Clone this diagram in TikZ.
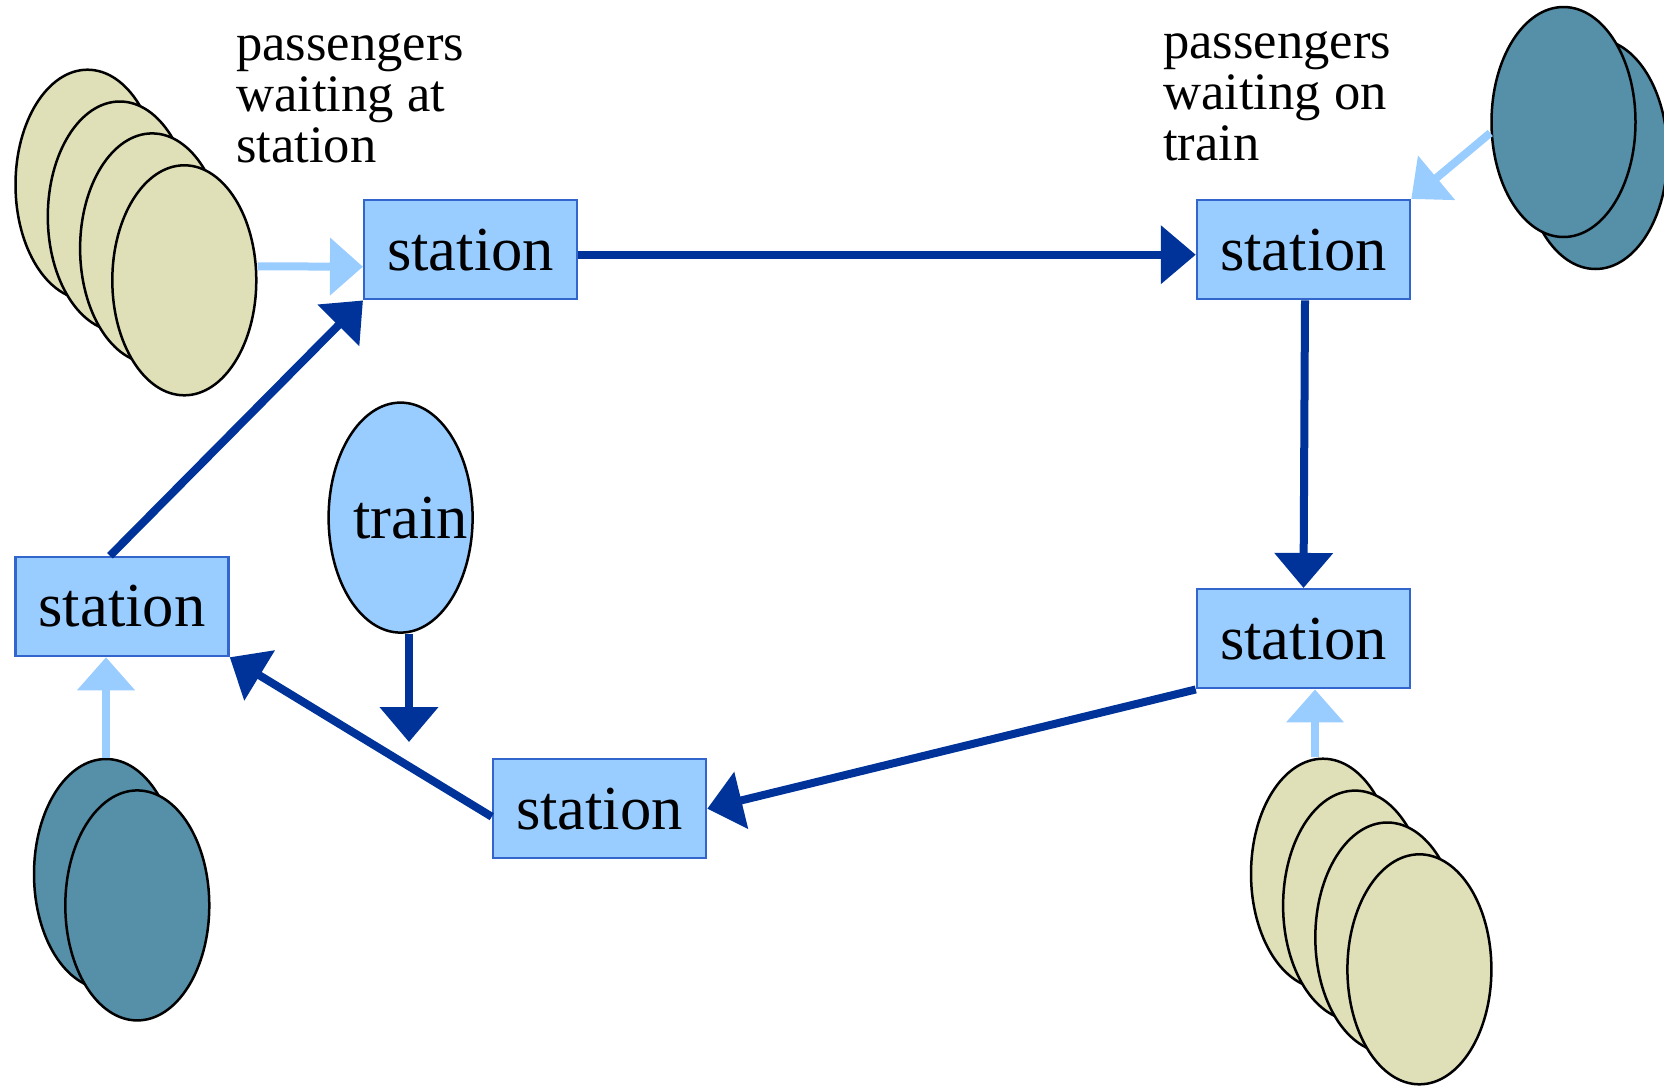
\documentclass[tikz,border=0pt]{standalone}
\usepackage{fontspec}
\setmainfont{Liberation Serif}
\usetikzlibrary{shapes.geometric,arrows.meta}
\definecolor{stfill}{HTML}{99CCFF}
\definecolor{stdraw}{HTML}{3366CC}
\definecolor{darkarr}{HTML}{003399}
\definecolor{tanfill}{HTML}{DFDFB8}
\definecolor{tealfill}{HTML}{5590A8}
\begin{document}
\begin{tikzpicture}[x=1pt,y=-1pt,
  stationbox/.style={draw=stdraw, line width=2.5pt, fill=stfill, minimum width=213pt, minimum height=99pt, inner sep=0pt, font=\fontsize{62.6}{70}\selectfont},
  pax/.style={ellipse, draw=black, line width=2.5pt, minimum width=144pt, minimum height=230pt, inner sep=0pt},
  waitst/.style={pax, fill=tanfill},
  waittr/.style={pax, fill=tealfill},
  trainnode/.style={pax, fill=stfill, font=\fontsize{62.6}{70}\selectfont},
  flow/.style={draw=darkarr, line width=8pt, -{Triangle[length=35pt,width=57pt]}},
  feed/.style={draw=stfill, line width=8pt, -{Triangle[length=33pt,width=56pt]}},
  lbl/.style={align=left, anchor=base west, inner sep=0pt, font=\fontsize{52.6}{51}\selectfont}
]
\useasboundingbox (0,0) rectangle (1664,1085);

% passenger groups
\node[waitst] (ta1) at (87.5,184.7) {};
\node[waitst] (ta2) at (119.8,216.5) {};
\node[waitst] (ta3) at (152.1,248.4) {};
\node[waitst] (ta4) at (184.3,280.3) {};

\node[waittr] (tb2) at (1595.5,154) {};
\node[waittr] (tb1) at (1563.5,122) {};

\node[waittr] (tc1) at (106,874) {};
\node[waittr] (tc2) at (137.3,905.4) {};

\node[waitst] (td1) at (1323,873.7) {};
\node[waitst] (td2) at (1355.1,905.6) {};
\node[waitst] (td3) at (1387.3,937.5) {};
\node[waitst] (td4) at (1419.4,969.3) {};

% train
\node[trainnode] (train) at (400.6,517.6) {\makebox[0pt]{\hspace{20pt}train}};
\coordinate (trend) at (409,742);

% stations
\node[stationbox] (s1) at (470.7,249.7) {station};
\node[stationbox] (s2) at (1303.5,249.7) {station};
\node[stationbox] (s3) at (122,606.5) {station};
\node[stationbox] (s4) at (599.5,808.7) {station};
\node[stationbox] (s5) at (1303.5,638.7) {station};

% labels
\node[lbl] (lab1) at (236,162) {passengers\\waiting at\\station};
\node[lbl] (lab2) at (1163,160) {passengers\\waiting on\\train};

% main flow
\draw[flow] ([yshift=-5pt]s1.east) -- ([yshift=-5pt]s2.west);
\draw[flow] ([xshift=1.5pt]s2.south) -- (s5.north);
\draw[flow] (s5.south west) -- (s4.east);
\draw[flow] ([yshift=-8pt]s4.west) -- (s3.south east);
\draw[flow] ([xshift=-12pt]s3.north) -- (s1.south west);
\draw[flow] (train.south -| trend) -- (trend);

% feeders
\coordinate (dtop) at ([xshift=-8pt]td1.north);
\draw[feed] ([yshift=14pt]ta4.east) -- ([yshift=-17pt]s1.west);
\draw[feed] ([yshift=-11pt]tb1.west) -- (s2.north east);
\draw[feed] (tc1.north) -- (tc1.north |- s3.south);
\draw[feed] (dtop) -- (dtop |- s5.south);
\end{tikzpicture}
\end{document}
